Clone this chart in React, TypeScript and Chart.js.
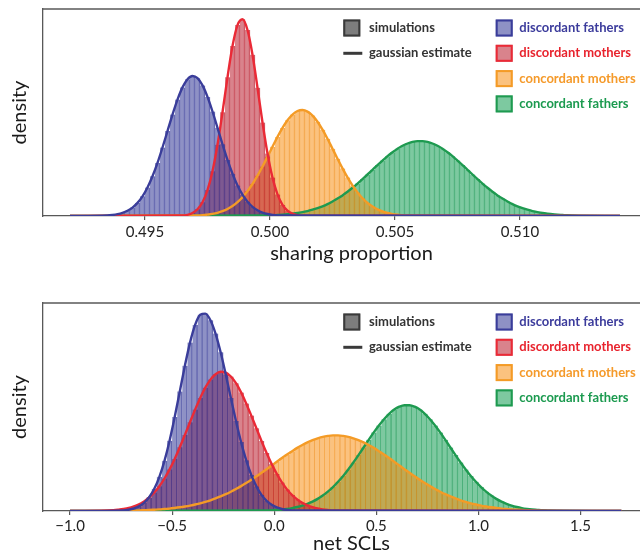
import React, { useEffect, useRef } from "react";
import { Chart, registerables } from "chart.js";

Chart.register(...registerables);

const FONT = "Lato, 'Open Sans', sans-serif";

// ---- series (legend order) ----
const SERIES_NAMES = ["discordant fathers", "discordant mothers", "concordant mothers", "concordant fathers"];
const LINE_COLORS = ["#3a3d9a", "#ea2a36", "#f49b26", "#1e9a50"];
const FILL_COLORS = ["rgba(50,55,150,0.55)", "rgba(186,30,46,0.55)", "rgba(248,144,22,0.55)", "rgba(19,157,82,0.55)"];
const STRIPE_COLORS = ["rgba(50,55,150,0.62)", "rgba(186,30,46,0.62)", "rgba(235,135,20,0.62)", "rgba(19,145,78,0.62)"];
const TEXT_COLORS = ["#3c3c9c", "#e8232d", "#f59a2a", "#1b9a4f"];
const KEY_LABELS = ["simulations", "gaussian estimate"];

// ---- top panel: sharing proportion ----
const TOP_TITLE = "sharing proportion";
const TOP_TICKS = [0.495, 0.5, 0.505, 0.51];
const TOP_TICK_LABELS = ["0.495", "0.500", "0.505", "0.510"];
const TOP_X_LIMITS = [0.49092, 0.5156];
const TOP_CURVE_RANGE = [0.492, 0.514];
const TOP_BIN = 0.0002;
const TOP_STARTS = [0.4935, 0.4965, 0.4971, 0.4999];
const TOP_DISC_FATHERS = [0.5, 1.0, 1.8, 3.1, 5.2, 8.4, 13.1, 19.7, 28.5, 39.7, 53.1, 68.5, 84.9, 101.4, 116.4, 128.6, 136.8, 140.0, 137.8, 130.6, 119.1, 104.5, 88.2, 71.7, 56.1, 42.2, 30.5, 21.3, 14.3, 9.2, 5.7, 3.4, 2.0, 1.1, 0.6];
const TOP_DISC_MOTHERS = [0.45, 1.2, 3.0, 6.7, 13.7, 25.9, 44.8, 71.2, 103.8, 138.7, 169.9, 190.9, 196.8, 186.0, 161.3, 128.3, 93.5, 62.5, 38.4, 21.6, 11.1, 5.3, 2.3, 0.9, 0.3];
const TOP_CONC_MOTHERS = [0.5, 0.8, 1.4, 2.1, 3.2, 4.8, 7.0, 10.0, 13.9, 18.8, 24.9, 32.0, 40.3, 49.5, 59.3, 69.3, 79.1, 88.1, 95.7, 101.4, 105.0, 106.0, 104.4, 100.4, 94.3, 86.3, 77.2, 67.3, 57.3, 47.6, 38.6, 30.5, 23.6, 17.7, 13.0, 9.4, 6.6, 4.5, 3.0, 1.9, 1.2, 0.8, 0.5];
const TOP_CONC_FATHERS = [0.5, 0.7, 1.0, 1.3, 1.7, 2.3, 3.0, 3.9, 4.9, 6.3, 7.9, 9.7, 11.9, 14.5, 17.4, 20.6, 24.2, 28.2, 32.4, 36.9, 41.5, 46.2, 50.9, 55.4, 59.8, 63.8, 67.3, 70.2, 72.5, 74.1, 74.9, 74.9, 74.1, 72.5, 70.2, 67.3, 63.8, 59.8, 55.4, 50.9, 46.2, 41.5, 36.9, 32.4, 28.2, 24.2, 20.6, 17.4, 14.5, 11.9, 9.7, 7.9, 6.3, 4.9, 3.9, 3.0, 2.3, 1.7, 1.3, 1.0, 0.7, 0.5];

// ---- bottom panel: net SCLs ----
const BOT_TITLE = "net SCLs";
const BOT_TICKS = [-1.0, -0.5, 0.0, 0.5, 1.0, 1.5];
const BOT_TICK_LABELS = ["\u22121.0", "\u22120.5", "0.0", "0.5", "1.0", "1.5"];
const BOT_X_LIMITS = [-1.1324, 1.889];
const BOT_CURVE_RANGE = [-1.0, 1.7];
const BOT_BIN = 0.025;
const BOT_STARTS = [-0.7375, -0.7875, -0.6625, -0.0375];
const BOT_DISC_FATHERS = [0.6, 1.3, 2.5, 4.6, 8.2, 13.8, 22.2, 34.2, 50.2, 70.3, 93.9, 119.6, 145.3, 168.4, 186.1, 196.2, 197.4, 190.8, 177.4, 158.7, 136.5, 113.0, 90.0, 68.9, 50.8, 36.0, 24.6, 16.1, 10.2, 6.2, 3.6, 2.0, 1.1, 0.6];
const BOT_DISC_MOTHERS = [0.8, 1.3, 2.0, 3.0, 4.6, 6.7, 9.6, 13.5, 18.5, 24.8, 32.5, 41.6, 52.1, 63.7, 76.1, 88.8, 101.4, 113.1, 123.3, 131.4, 136.8, 139.2, 138.4, 134.5, 127.8, 118.6, 107.6, 95.4, 82.7, 70.0, 58.0, 46.9, 37.1, 28.6, 21.6, 15.9, 11.5, 8.1, 5.6, 3.8, 2.5, 1.6, 1.0, 0.6];
const BOT_CONC_MOTHERS = [0.6, 0.8, 1.0, 1.3, 1.6, 2.0, 2.4, 3.0, 3.7, 4.5, 5.4, 6.5, 7.7, 9.1, 10.7, 12.6, 14.6, 16.8, 19.3, 22.0, 24.9, 28.0, 31.2, 34.7, 38.2, 41.8, 45.5, 49.2, 52.9, 56.4, 59.8, 63.1, 66.0, 68.6, 70.9, 72.7, 74.2, 75.1, 75.6, 75.6, 75.1, 74.2, 72.7, 70.9, 68.6, 66.0, 63.1, 59.8, 56.4, 52.9, 49.2, 45.5, 41.8, 38.2, 34.7, 31.2, 28.0, 24.9, 22.0, 19.3, 16.8, 14.6, 12.6, 10.7, 9.1, 7.7, 6.5, 5.4, 4.5, 3.7, 3.0, 2.4, 2.0, 1.6, 1.3, 1.0, 0.8, 0.6];
const BOT_CONC_FATHERS = [0.5, 0.7, 1.1, 1.5, 2.1, 2.9, 4.0, 5.4, 7.2, 9.4, 12.1, 15.4, 19.3, 23.9, 29.2, 35.0, 41.5, 48.5, 55.9, 63.5, 71.2, 78.6, 85.5, 91.8, 97.2, 101.4, 104.3, 105.8, 105.8, 104.3, 101.4, 97.2, 91.8, 85.5, 78.6, 71.2, 63.5, 55.9, 48.5, 41.5, 35.0, 29.2, 23.9, 19.3, 15.4, 12.1, 9.4, 7.2, 5.4, 4.0, 2.9, 2.1, 1.5, 1.1, 0.7, 0.5];

type PanelCfg = {
  title: string;
  ticks: number[];
  tickLabels: string[];
  xLimits: number[];
  curveRange: number[];
  bin: number;
  starts: number[];
  values: number[][];
  height: number;
  padTop: number;
  ymax: number;
  axisHeight: number;
  tickPad: number;
  titlePad: number;
};

const PANELS: PanelCfg[] = [
  {
    title: TOP_TITLE, ticks: TOP_TICKS, tickLabels: TOP_TICK_LABELS, xLimits: TOP_X_LIMITS,
    curveRange: TOP_CURVE_RANGE, bin: TOP_BIN, starts: TOP_STARTS,
    values: [TOP_DISC_FATHERS, TOP_DISC_MOTHERS, TOP_CONC_MOTHERS, TOP_CONC_FATHERS],
    height: 280, padTop: 9, ymax: 207, axisHeight: 64, tickPad: 3, titlePad: 14,
  },
  {
    title: BOT_TITLE, ticks: BOT_TICKS, tickLabels: BOT_TICK_LABELS, xLimits: BOT_X_LIMITS,
    curveRange: BOT_CURVE_RANGE, bin: BOT_BIN, starts: BOT_STARTS,
    values: [BOT_DISC_FATHERS, BOT_DISC_MOTHERS, BOT_CONC_MOTHERS, BOT_CONC_FATHERS],
    height: 279, padTop: 23, ymax: 208, axisHeight: 48, tickPad: 2, titlePad: 3,
  },
];

const AXIS_COLOR = "#585858";
const r5 = (v: number) => Math.round(v * 1e5) / 1e5;

const framePlugin = {
  id: "frameAndKey",
  afterDraw(chart: any) {
    const { ctx, chartArea } = chart;
    ctx.save();
    // top frame line
    ctx.strokeStyle = AXIS_COLOR;
    ctx.lineWidth = 1.3;
    ctx.beginPath();
    ctx.moveTo(chartArea.left, chartArea.top);
    ctx.lineTo(chartArea.right, chartArea.top);
    ctx.stroke();

    const rowY = (i: number) => chartArea.top + 19 + i * 25.3;
    const sq = 17;
    const col1 = 343.3;
    const col2 = 495.7;
    ctx.font = `bold 13px ${FONT}`;
    ctx.textBaseline = "middle";
    ctx.textAlign = "left";

    // simulations key
    let y = rowY(0);
    ctx.fillStyle = "rgba(70,70,70,0.7)";
    ctx.fillRect(col1, y - sq / 2, sq, sq);
    ctx.strokeStyle = "#3a3a3a";
    ctx.lineWidth = 2;
    ctx.strokeRect(col1 + 1, y - sq / 2 + 1, sq - 2, sq - 2);
    ctx.fillStyle = "#333";
    ctx.fillText(KEY_LABELS[0], 369, y);
    // gaussian estimate key
    y = rowY(1);
    ctx.strokeStyle = "#3a3a3a";
    ctx.lineWidth = 3;
    ctx.beginPath();
    ctx.moveTo(col1, y);
    ctx.lineTo(col1 + 19, y);
    ctx.stroke();
    ctx.fillStyle = "#333";
    ctx.fillText(KEY_LABELS[1], 369, y);

    // series keys
    SERIES_NAMES.forEach((name, i) => {
      const yy = rowY(i);
      ctx.fillStyle = FILL_COLORS[i];
      ctx.fillRect(col2, yy - sq / 2, sq, sq);
      ctx.strokeStyle = LINE_COLORS[i];
      ctx.lineWidth = 2;
      ctx.strokeRect(col2 + 1, yy - sq / 2 + 1, sq - 2, sq - 2);
      ctx.fillStyle = TEXT_COLORS[i];
      ctx.fillText(name, 519.3, yy);
    });
    ctx.restore();
  },
};

function makeConfig(p: PanelCfg): any {
  const pts = p.values.map((vals, s) => vals.map((y, i) => ({ x: r5(p.starts[s] + i * p.bin), y })));
  const lines = pts.map((data, s) => ({
    type: "line",
    label: SERIES_NAMES[s] + " gaussian",
    data: [{ x: p.curveRange[0], y: 0 }, ...data, { x: p.curveRange[1], y: 0 }],
    borderColor: LINE_COLORS[s],
    borderWidth: 2.4,
    pointRadius: 0,
    fill: false,
    cubicInterpolationMode: "monotone",
    order: s,
  }));
  const bars = pts.map((data, s) => ({
    type: "bar",
    label: SERIES_NAMES[s],
    data,
    backgroundColor: FILL_COLORS[s],
    borderColor: STRIPE_COLORS[s],
    borderWidth: { top: 0, bottom: 0, left: 0, right: 0.8 },
    barPercentage: 1,
    categoryPercentage: 1,
    grouped: false,
    order: 10 + s,
  }));
  return {
    type: "bar",
    data: { datasets: [...lines, ...bars] },
    options: {
      responsive: false,
      devicePixelRatio: 1,
      animation: false,
      events: [],
      layout: { padding: { top: p.padTop, left: 0, right: 0, bottom: 0 } },
      plugins: { legend: { display: false }, tooltip: { enabled: false } },
      scales: {
        x: {
          type: "linear",
          min: p.xLimits[0],
          max: p.xLimits[1],
          offset: false,
          afterBuildTicks: (scale: any) => {
            scale.ticks = p.ticks.map((v) => ({ value: v }));
          },
          afterFit: (scale: any) => {
            scale.height = p.axisHeight;
          },
          grid: { display: true, offset: false, drawOnChartArea: false, drawTicks: true, tickLength: 4, color: AXIS_COLOR, lineWidth: 1.2 },
          border: { display: true, color: AXIS_COLOR, width: 1.3 },
          ticks: {
            autoSkip: false,
            maxRotation: 0,
            padding: p.tickPad,
            color: "#222",
            font: { family: FONT, size: 15 },
            callback: (_v: any, i: number) => p.tickLabels[i],
          },
          title: {
            display: true,
            text: p.title,
            color: "#1a1a1a",
            font: { family: FONT, size: 20 },
            padding: { top: 0, bottom: p.titlePad },
          },
        },
        y: {
          min: 0,
          max: p.ymax,
          afterFit: (scale: any) => {
            scale.width = 43;
          },
          grid: { display: false, drawTicks: false },
          border: { display: true, color: AXIS_COLOR, width: 1.3 },
          ticks: { display: false },
          title: {
            display: true,
            text: "density",
            color: "#1a1a1a",
            font: { family: FONT, size: 20 },
            padding: { top: 8, bottom: 0 },
          },
        },
      },
    },
    plugins: [framePlugin],
  };
}

function Panel({ cfg, top }: { cfg: PanelCfg; top: number }) {
  const ref = useRef<HTMLCanvasElement>(null);
  useEffect(() => {
    const chart = new Chart(ref.current as HTMLCanvasElement, makeConfig(cfg));
    return () => chart.destroy();
  }, [cfg]);
  return (
    <canvas
      ref={ref}
      width={660}
      height={cfg.height}
      style={{ position: "absolute", left: 0, top, width: 660, height: cfg.height, display: "block" }}
    />
  );
}

export default function App() {
  return (
    <div style={{ position: "absolute", left: 0, top: 0, width: 640, height: 559, overflow: "hidden", background: "#fff" }}>
      <Panel cfg={PANELS[0]} top={0} />
      <Panel cfg={PANELS[1]} top={280} />
    </div>
  );
}
